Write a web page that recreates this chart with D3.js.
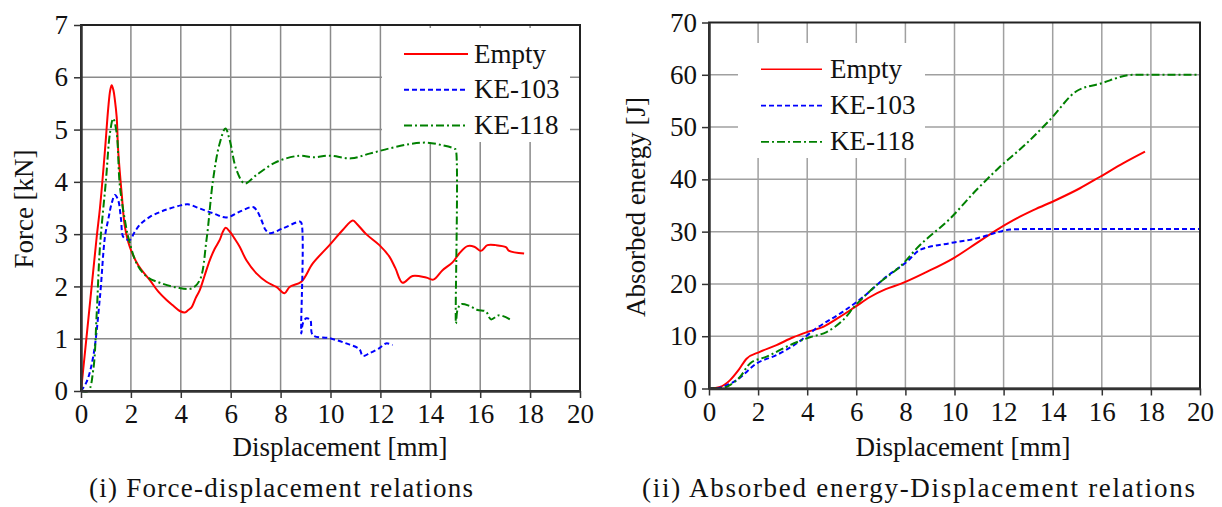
<!DOCTYPE html>
<html><head><meta charset="utf-8">
<script src="https://cdn.jsdelivr.net/npm/d3@7"></script>
<style>
body{margin:0;background:#fff;}
svg{display:block;}
text{font-family:"Liberation Serif","Times New Roman",serif;fill:#111;}
</style>
</head><body>
<svg id="c" width="1222" height="507"></svg>
<script>
// ---------- data ----------
const seriesNames = ["Empty", "KE-103", "KE-118"];
const xTicks = [0, 2, 4, 6, 8, 10, 12, 14, 16, 18, 20];
const forceTicks = [0, 1, 2, 3, 4, 5, 6, 7];
const energyTicks = [0, 10, 20, 30, 40, 50, 60, 70];

const forceEmpty = [[0,0],[0.3,1.4],[0.63,2.95],[0.76,3.5],[0.96,4.6],[1.09,5.4],[1.17,5.75],[1.23,5.85],[1.3,5.75],[1.36,5.56],[1.43,5.24],[1.49,4.6],[1.63,3.78],[1.76,3.14],[1.96,2.75],[2.3,2.4],[2.76,2.12],[3.1,1.9],[3.43,1.74],[3.7,1.63],[3.96,1.53],[4.16,1.5],[4.3,1.55],[4.43,1.6],[4.6,1.78],[4.76,1.93],[4.95,2.2],[5.16,2.5],[5.36,2.72],[5.56,2.89],[5.7,3.06],[5.8,3.12],[5.96,3.05],[6.15,2.92],[6.36,2.76],[6.63,2.5],[7.03,2.25],[7.43,2.09],[7.83,1.99],[8.16,1.87],[8.36,1.99],[8.83,2.09],[9.29,2.44],[9.96,2.79],[10.49,3.08],[10.89,3.26],[11.05,3.2],[11.43,3.0],[11.96,2.79],[12.36,2.57],[12.6,2.35],[12.89,2.07],[13.29,2.2],[13.83,2.17],[14.12,2.13],[14.49,2.31],[14.89,2.46],[15.16,2.63],[15.49,2.77],[15.76,2.76],[16.03,2.68],[16.29,2.79],[16.63,2.79],[17.03,2.75],[17.16,2.68],[17.76,2.63]];
const forceKE103 = [[0,0],[0.23,0.18],[0.49,0.66],[0.76,1.8],[0.96,2.95],[1.1,3.3],[1.23,3.59],[1.36,3.75],[1.49,3.65],[1.6,3.3],[1.69,2.95],[1.83,2.9],[1.96,2.89],[2.16,3.05],[2.4,3.2],[2.76,3.33],[3.2,3.43],[3.56,3.49],[4.0,3.55],[4.29,3.57],[4.76,3.49],[5.29,3.4],[5.83,3.32],[6.36,3.43],[6.89,3.52],[7.05,3.45],[7.23,3.27],[7.4,3.08],[7.56,3.02],[8.09,3.11],[8.76,3.24],[8.83,3.22],[8.83,1.1],[8.89,1.29],[9.03,1.39],[9.19,1.36],[9.29,1.07],[9.96,1.01],[10.63,0.91],[11.16,0.8],[11.29,0.67],[11.56,0.72],[11.96,0.82],[12.23,0.91],[12.49,0.88]];
const forceKE118 = [[0,0],[0.29,0],[0.49,0.4],[0.63,1.49],[0.76,2.76],[1.0,4.03],[1.16,4.93],[1.29,5.21],[1.43,4.93],[1.56,3.91],[1.83,3.08],[1.89,2.95],[2.23,2.44],[2.63,2.19],[3.16,2.07],[3.83,1.98],[4.43,1.96],[4.76,2.12],[5.03,2.89],[5.29,4.03],[5.56,4.74],[5.79,5.02],[5.96,4.8],[6.23,4.23],[6.56,3.97],[7.03,4.13],[7.83,4.38],[8.76,4.5],[9.29,4.47],[9.96,4.5],[10.83,4.45],[11.56,4.54],[12.36,4.64],[13.16,4.72],[13.83,4.75],[14.49,4.7],[14.99,4.63],[15.03,4.6],[15.03,1.29],[15.09,1.55],[15.23,1.66],[15.56,1.63],[15.89,1.55],[16.23,1.52],[16.43,1.37],[16.76,1.45],[17.23,1.36]];

const energyEmpty = [[0,0],[0.45,0.3],[0.86,1.6],[1.2,3.5],[1.53,5.7],[2.07,7.0],[2.75,8.3],[3.43,9.8],[4.0,10.8],[4.65,11.8],[5.33,13.7],[5.95,15.6],[6.56,17.5],[7.2,19.0],[7.8,20.0],[8.87,22.3],[9.95,24.9],[10.9,27.8],[11.71,30.3],[12.4,32.2],[13.21,34.1],[14.16,36.1],[15.11,38.3],[15.93,40.5],[16.88,43.1],[17.76,45.3]];
const energyKE103 = [[0,0],[0.31,0],[0.7,0.6],[1.13,1.6],[1.94,4.8],[2.75,6.4],[3.56,8.6],[4.37,11.5],[5.46,14.7],[6.28,17.5],[7.23,21.4],[8.05,24.2],[8.59,26.5],[9.82,27.8],[10.9,28.7],[11.85,30.0],[12.26,30.4],[13.0,30.5],[20,30.5]];
const energyKE118 = [[0,0],[0.45,0],[0.9,0.8],[1.26,2.2],[1.67,4.8],[2.35,6.1],[3.3,8.3],[4.11,9.8],[4.79,10.8],[5.46,13.1],[5.95,15.8],[6.83,19.8],[7.91,23.9],[8.46,26.8],[9.82,32.5],[10.9,38.0],[11.85,42.4],[12.94,46.9],[13.89,51.4],[14.98,56.9],[15.93,58.3],[17.28,60.0],[20,60.0]];

// ---------- styles ----------
const seriesColors = ["#ff0000", "#0000ff", "#008000"];
const seriesDash = [null, "5,3", "8,3,2,3"];

const svg = d3.select("#c");
const FONT = 27;

function panel(cfg) {
  const x = d3.scaleLinear().domain([0, 20]).range(cfg.xr);
  const y = d3.scaleLinear().domain(cfg.yd).range(cfg.yr);
  const g = svg.append("g");

  // grid
  g.selectAll("line.gx").data(xTicks.slice(1, -1)).enter().append("line")
    .attr("x1", d => x(d)).attr("x2", d => x(d)).attr("y1", cfg.yr[0]).attr("y2", cfg.yr[1])
    .attr("stroke", cfg.grid).attr("stroke-width", 1.5);
  g.selectAll("line.gy").data(cfg.yt.slice(1, -1)).enter().append("line")
    .attr("y1", d => y(d)).attr("y2", d => y(d)).attr("x1", cfg.xr[0]).attr("x2", cfg.xr[1])
    .attr("stroke", cfg.grid).attr("stroke-width", 1.5);

  // legend box (white background)
  g.append("rect").attr("x", cfg.lb[0]).attr("y", cfg.lb[1]).attr("width", cfg.lb[2]).attr("height", cfg.lb[3]).attr("fill", "#fff");

  // lines
  const line = d3.line().curve(cfg.curve).x(d => x(d[0])).y(d => y(d[1]));
  cfg.data.forEach((s, i) => {
    g.append("path").attr("d", line(s)).attr("fill", "none")
      .attr("stroke", seriesColors[i]).attr("stroke-width", 2)
      .attr("stroke-dasharray", seriesDash[i]).attr("stroke-linejoin", "round");
  });

  // frame
  g.append("rect").attr("x", cfg.xr[0]).attr("y", cfg.yr[1])
    .attr("width", cfg.xr[1] - cfg.xr[0]).attr("height", cfg.yr[0] - cfg.yr[1])
    .attr("fill", "none").attr("stroke", "#222").attr("stroke-width", 2);

  // axes
  const fmt = d3.format("d");
  const ax = g.append("g").attr("transform", `translate(0,${cfg.yr[0]})`)
    .call(d3.axisBottom(x).tickValues(xTicks).tickFormat(fmt).tickSize(7).tickSizeOuter(0).tickPadding(6));
  const ay = g.append("g").attr("transform", `translate(${cfg.xr[0]},0)`)
    .call(d3.axisLeft(y).tickValues(cfg.yt).tickFormat(fmt).tickSize(7).tickSizeOuter(0).tickPadding(cfg.ypad));
  [ax, ay].forEach(a => {
    a.attr("font-family", null).attr("font-size", null);
    a.select(".domain").attr("stroke", "#333").attr("stroke-width", 2.5);
    a.selectAll(".tick line").attr("stroke", "#333").attr("stroke-width", 1.5);
    a.selectAll(".tick text").attr("font-size", FONT).attr("fill", "#111");
  });

  // axis titles
  g.append("text").attr("x", cfg.xl[0]).attr("y", cfg.xl[1]).attr("text-anchor", "middle")
    .attr("font-size", FONT).text("Displacement [mm]");
  g.append("text").attr("transform", `translate(${cfg.yl[0]},${cfg.yl[1]}) rotate(-90)`)
    .attr("text-anchor", "middle").attr("font-size", FONT).text(cfg.ytitle);

  // caption
  g.append("text").attr("x", cfg.cap[0]).attr("y", cfg.cap[1]).attr("font-size", FONT)
    .attr("textLength", cfg.cap[2]).attr("lengthAdjust", "spacing").text(cfg.caption);

  // legend
  seriesNames.forEach((n, i) => {
    const ly = cfg.leg.y0 + i * cfg.leg.dy;
    g.append("line").attr("x1", cfg.leg.x1).attr("x2", cfg.leg.x2).attr("y1", ly).attr("y2", ly)
      .attr("stroke", seriesColors[i]).attr("stroke-width", cfg.leg.w)
      .attr("stroke-dasharray", seriesDash[i]);
    g.append("text").attr("x", cfg.leg.tx).attr("y", ly + 8.5).attr("font-size", FONT).text(n);
  });
}

panel({
  xr: [81, 580], yr: [391, 25], yd: [0, 7], yt: forceTicks, ypad: 6,
  grid: "#8a8a8a", curve: d3.curveCatmullRom.alpha(0.5),
  data: [forceEmpty, forceKE103, forceKE118],
  lb: [382, 28, 188, 114],
  leg: {x1: 404, x2: 468, tx: 474, y0: 54, dy: 35.7, w: 2},
  xl: [340, 456], yl: [33, 209], ytitle: "Force [kN]",
  cap: [89, 497, 384], caption: "(i) Force-displacement relations"
});

panel({
  xr: [709, 1200], yr: [388.5, 22.5], yd: [0, 70], yt: energyTicks, ypad: 5,
  grid: "#a0a0a0", curve: d3.curveMonotoneX,
  data: [energyEmpty, energyKE103, energyKE118],
  lb: [738, 43, 187, 115],
  leg: {x1: 761, x2: 822, tx: 830, y0: 69.3, dy: 36.3, w: 1.6},
  xl: [963, 456], yl: [645, 207], ytitle: "Absorbed energy [J]",
  cap: [642, 497, 553], caption: "(ii) Absorbed energy-Displacement relations"
});
</script>
</body></html>
